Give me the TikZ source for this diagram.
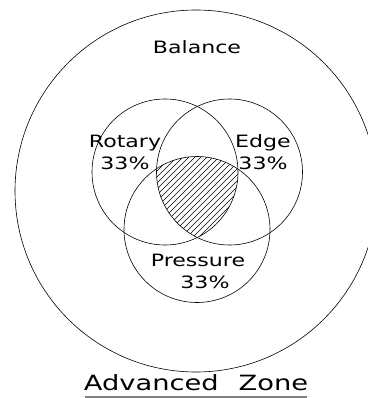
\documentclass[tikz,border=0pt]{standalone}
\usepackage{fontspec}
\setmainfont{DejaVu Sans}
\newcommand{\widetxt}[1]{\scalebox{1.3}[1]{#1}}
\begin{document}
\begin{tikzpicture}[x=1pt,y=-1pt,
  ring/.style={draw=black,line width=0.6pt},
  lbl/.style={font=\fontsize{17}{22}\selectfont,align=center,inner sep=0pt},
  hatch/.style={line width=0.5pt}]
\useasboundingbox (0,0) rectangle (367,398);
\fill[white] (0,0) rectangle (367,398);
\coordinate (cB) at (196,191);
\coordinate (cR) at (165,172);
\coordinate (cE) at (229.5,172);
\coordinate (cP) at (197,229.5);
% hatched triple intersection
\begin{scope}
  \clip (cR) circle[radius=73];
  \clip (cE) circle[radius=73];
  \clip (cP) circle[radius=73];
  \foreach \k in {-300,-294,...,300}
    \draw[hatch] (100+\k,300) -- (300+\k,100);
\end{scope}
\draw[ring] (cB) circle[radius=181];
\draw[ring] (cR) circle[radius=73];
\draw[ring] (cE) circle[radius=73];
\draw[ring] (cP) circle[radius=73];
\node[lbl] (bal) at (197,47) {\widetxt{Balance}};
\node[lbl] (rot) at (125,152) {\widetxt{Rotary}\\\widetxt{33\%}};
\node[lbl] (edg) at (263,152) {\widetxt{Edge}\\\widetxt{33\%}};
\node[lbl] (pre) at (198,271) {\widetxt{Pressure}\\\hspace*{14pt}\widetxt{33\%}};
\node[font=\fontsize{21}{26}\selectfont,inner sep=0pt] (adv) at (196,383) {\widetxt{Advanced}\hspace{20pt}\widetxt{Zone}};
\draw[line width=2pt,gray] (85,396.5) -- (307,396.5);
\end{tikzpicture}
\end{document}
